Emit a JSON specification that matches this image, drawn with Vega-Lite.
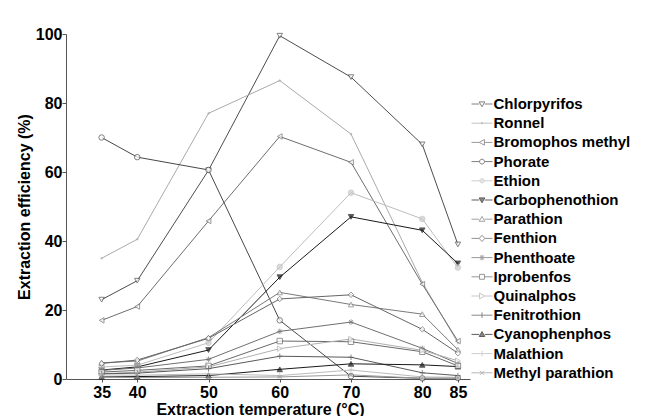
{
  "$schema": "https://vega.github.io/schema/vega-lite/v6.json",
  "width": 404,
  "height": 345,
  "autosize": "none",
  "padding": {"left": 66, "top": 34, "right": 183, "bottom": 37},
  "background": "white",
  "config": {
    "view": {"stroke": null},
    "font": "Liberation Sans",
    "axis": {
      "grid": false,
      "domainColor": "#555555",
      "tickColor": "#555555",
      "labelColor": "#000000",
      "labelFont": "Liberation Sans",
      "labelFontSize": 16,
      "labelFontWeight": "bold",
      "titleFont": "Liberation Sans",
      "titleFontSize": 16,
      "titleFontWeight": "bold",
      "titleColor": "#000000"
    },
    "legend": {
      "orient": "none", "legendX": 408.5, "legendY": 62.5,
      "labelFont": "Liberation Sans", "labelFontSize": 15, "labelFontWeight": "bold", "labelColor": "#000000",
      "labelLimit": 250, "labelOffset": 4, "rowPadding": 3.2, "symbolSize": 196, "symbolStrokeWidth": 1
    }
  },
  "data": {
    "values": [
      {"s": "Chlorpyrifos", "t": 35, "v": 23}, {"s": "Chlorpyrifos", "t": 40, "v": 28.5}, {"s": "Chlorpyrifos", "t": 50, "v": 60.5}, {"s": "Chlorpyrifos", "t": 60, "v": 99.5}, {"s": "Chlorpyrifos", "t": 70, "v": 87.5}, {"s": "Chlorpyrifos", "t": 80, "v": 68}, {"s": "Chlorpyrifos", "t": 85, "v": 39},
      {"s": "Ronnel", "t": 35, "v": 35}, {"s": "Ronnel", "t": 40, "v": 40.5}, {"s": "Ronnel", "t": 50, "v": 77}, {"s": "Ronnel", "t": 60, "v": 86.5}, {"s": "Ronnel", "t": 70, "v": 71}, {"s": "Ronnel", "t": 80, "v": 28}, {"s": "Ronnel", "t": 85, "v": 10.5},
      {"s": "Bromophos methyl", "t": 35, "v": 17}, {"s": "Bromophos methyl", "t": 40, "v": 21}, {"s": "Bromophos methyl", "t": 50, "v": 45.8}, {"s": "Bromophos methyl", "t": 60, "v": 70.3}, {"s": "Bromophos methyl", "t": 70, "v": 62.8}, {"s": "Bromophos methyl", "t": 80, "v": 27.5}, {"s": "Bromophos methyl", "t": 85, "v": 11},
      {"s": "Phorate", "t": 35, "v": 70}, {"s": "Phorate", "t": 40, "v": 64.3}, {"s": "Phorate", "t": 50, "v": 60.6}, {"s": "Phorate", "t": 60, "v": 17}, {"s": "Phorate", "t": 70, "v": 0.8}, {"s": "Phorate", "t": 80, "v": 0.2}, {"s": "Phorate", "t": 85, "v": 0.3},
      {"s": "Ethion", "t": 35, "v": 3.5}, {"s": "Ethion", "t": 40, "v": 4}, {"s": "Ethion", "t": 50, "v": 10.5}, {"s": "Ethion", "t": 60, "v": 32.5}, {"s": "Ethion", "t": 70, "v": 54}, {"s": "Ethion", "t": 80, "v": 46.4}, {"s": "Ethion", "t": 85, "v": 32.3},
      {"s": "Carbophenothion", "t": 35, "v": 2.6}, {"s": "Carbophenothion", "t": 40, "v": 3.5}, {"s": "Carbophenothion", "t": 50, "v": 8.4}, {"s": "Carbophenothion", "t": 60, "v": 29.5}, {"s": "Carbophenothion", "t": 70, "v": 47}, {"s": "Carbophenothion", "t": 80, "v": 43.1}, {"s": "Carbophenothion", "t": 85, "v": 33.5},
      {"s": "Parathion", "t": 35, "v": 4.7}, {"s": "Parathion", "t": 40, "v": 5.2}, {"s": "Parathion", "t": 50, "v": 12}, {"s": "Parathion", "t": 60, "v": 25.1}, {"s": "Parathion", "t": 70, "v": 21.6}, {"s": "Parathion", "t": 80, "v": 18.8}, {"s": "Parathion", "t": 85, "v": 8.5},
      {"s": "Fenthion", "t": 35, "v": 4.5}, {"s": "Fenthion", "t": 40, "v": 5.5}, {"s": "Fenthion", "t": 50, "v": 11.8}, {"s": "Fenthion", "t": 60, "v": 23.2}, {"s": "Fenthion", "t": 70, "v": 24.4}, {"s": "Fenthion", "t": 80, "v": 14.4}, {"s": "Fenthion", "t": 85, "v": 7.5},
      {"s": "Phenthoate", "t": 35, "v": 2.5}, {"s": "Phenthoate", "t": 40, "v": 3.2}, {"s": "Phenthoate", "t": 50, "v": 5.7}, {"s": "Phenthoate", "t": 60, "v": 13.8}, {"s": "Phenthoate", "t": 70, "v": 16.5}, {"s": "Phenthoate", "t": 80, "v": 8.9}, {"s": "Phenthoate", "t": 85, "v": 4.5},
      {"s": "Iprobenfos", "t": 35, "v": 2}, {"s": "Iprobenfos", "t": 40, "v": 2.5}, {"s": "Iprobenfos", "t": 50, "v": 3.8}, {"s": "Iprobenfos", "t": 60, "v": 11}, {"s": "Iprobenfos", "t": 70, "v": 10.8}, {"s": "Iprobenfos", "t": 80, "v": 7.9}, {"s": "Iprobenfos", "t": 85, "v": 3.8},
      {"s": "Quinalphos", "t": 35, "v": 1.5}, {"s": "Quinalphos", "t": 40, "v": 2}, {"s": "Quinalphos", "t": 50, "v": 3.5}, {"s": "Quinalphos", "t": 60, "v": 8.8}, {"s": "Quinalphos", "t": 70, "v": 11.6}, {"s": "Quinalphos", "t": 80, "v": 8.3}, {"s": "Quinalphos", "t": 85, "v": 5.3},
      {"s": "Fenitrothion", "t": 35, "v": 1.5}, {"s": "Fenitrothion", "t": 40, "v": 1.7}, {"s": "Fenitrothion", "t": 50, "v": 3}, {"s": "Fenitrothion", "t": 60, "v": 6.6}, {"s": "Fenitrothion", "t": 70, "v": 6.3}, {"s": "Fenitrothion", "t": 80, "v": 1.8}, {"s": "Fenitrothion", "t": 85, "v": 1},
      {"s": "Cyanophenphos", "t": 35, "v": 0.6}, {"s": "Cyanophenphos", "t": 40, "v": 0.7}, {"s": "Cyanophenphos", "t": 50, "v": 1}, {"s": "Cyanophenphos", "t": 60, "v": 2.8}, {"s": "Cyanophenphos", "t": 70, "v": 4.4}, {"s": "Cyanophenphos", "t": 80, "v": 4.1}, {"s": "Cyanophenphos", "t": 85, "v": 3.6},
      {"s": "Malathion", "t": 35, "v": 1.2}, {"s": "Malathion", "t": 40, "v": 1.1}, {"s": "Malathion", "t": 50, "v": 1.5}, {"s": "Malathion", "t": 60, "v": 1}, {"s": "Malathion", "t": 70, "v": 2.6}, {"s": "Malathion", "t": 80, "v": 0.6}, {"s": "Malathion", "t": 85, "v": 0.5},
      {"s": "Methyl parathion", "t": 35, "v": 0.5}, {"s": "Methyl parathion", "t": 40, "v": 0.4}, {"s": "Methyl parathion", "t": 50, "v": 0.5}, {"s": "Methyl parathion", "t": 60, "v": 0.6}, {"s": "Methyl parathion", "t": 70, "v": 1.2}, {"s": "Methyl parathion", "t": 80, "v": 0.2}, {"s": "Methyl parathion", "t": 85, "v": 0.2}
    ]
  },
  "encoding": {
    "x": {
      "field": "t", "type": "quantitative",
      "scale": {"domain": [30, 86.7], "nice": false, "zero": false},
      "axis": {"values": [35, 40, 50, 60, 70, 80, 85], "tickSize": 3, "labelPadding": 2, "title": "Extraction temperature (°C)", "titleX": 194, "titleY": 35, "titleBaseline": "alphabetic"}
    },
    "y": {
      "field": "v", "type": "quantitative",
      "scale": {"domain": [0, 100], "nice": false},
      "axis": {"values": [0, 20, 40, 60, 80, 100], "tickSize": 4, "labelPadding": 0, "titlePadding": 3, "title": "Extraction efficiency (%)"}
    },
    "color": {
      "field": "s", "type": "nominal",
      "scale": {
        "domain": ["Chlorpyrifos", "Ronnel", "Bromophos methyl", "Phorate", "Ethion", "Carbophenothion", "Parathion", "Fenthion", "Phenthoate", "Iprobenfos", "Quinalphos", "Fenitrothion", "Cyanophenphos", "Malathion", "Methyl parathion"],
        "range": ["#4d4d4d", "#aaaaaa", "#6e6e6e", "#484848", "#bdbdbd", "#1a1a1a", "#7a7a7a", "#666666", "#707070", "#6a6a6a", "#b0b0b0", "#595959", "#1a1a1a", "#bbbbbb", "#999999"]
      },
      "legend": {"title": null}
    }
  },
  "layer": [
    {
      "mark": {"type": "line", "strokeWidth": 1},
      "encoding": {"detail": {"field": "s"}}
    },
    {
      "mark": {"type": "point", "filled": false, "size": 0, "strokeWidth": 1},
      "encoding": {
        "shape": {
          "field": "s", "type": "nominal", "legend": {"title": null},
          "scale": {
            "domain": ["Chlorpyrifos", "Ronnel", "Bromophos methyl", "Phorate", "Ethion", "Carbophenothion", "Parathion", "Fenthion", "Phenthoate", "Iprobenfos", "Quinalphos", "Fenitrothion", "Cyanophenphos", "Malathion", "Methyl parathion"],
            "range": ["M-1.5,0H-0.4M0.4,0H1.5M-0.4,-0.3L0.4,-0.3L0,0.4Z", "M-1.5,0H1.5M-0.12,0A0.12,0.12,0,1,0,0.12,0A0.12,0.12,0,1,0,-0.12,0Z", "M-1.5,0H-0.4M0.35,0H1.5M-0.4,0L0.35,-0.4L0.35,0.4Z", "M-1.5,0H-0.35M0.35,0H1.5M-0.35,0A0.35,0.35,0,1,0,0.35,0A0.35,0.35,0,1,0,-0.35,0Z", "M-1.5,0H-0.3M0.3,0H1.5M-0.3,0A0.3,0.3,0,1,0,0.3,0A0.3,0.3,0,1,0,-0.3,0Z", "M-1.5,0H-0.4M0.4,0H1.5M-0.4,-0.3L0.4,-0.3L0,0.4Z", "M-1.5,0H-0.4M0.4,0H1.5M-0.4,0.3L0.4,0.3L0,-0.4Z", "M-1.5,0H-0.4M0.4,0H1.5M-0.4,0L0,-0.45L0.4,0L0,0.45Z", "M-1.5,0H1.5M0,-0.4V0.4M-0.3,-0.3L0.3,0.3M-0.3,0.3L0.3,-0.3", "M-1.5,0H-0.35M0.35,0H1.5M-0.35,-0.35H0.35V0.35H-0.35Z", "M-1.5,0H-0.35M0.4,0H1.5M0.4,0L-0.35,-0.4L-0.35,0.4Z", "M-1.5,0H1.5M0,-0.4V0.4", "M-1.5,0H-0.4M0.4,0H1.5M-0.4,0.3L0.4,0.3L0,-0.4Z", "M-1.5,0H1.5M0,-0.4V0.4", "M-1.5,0H1.5M-0.3,-0.3L0.3,0.3M-0.3,0.3L0.3,-0.3"]
          }
        },
        "fill": {
          "field": "s", "type": "nominal", "legend": {"title": null},
          "scale": {
            "domain": ["Chlorpyrifos", "Ronnel", "Bromophos methyl", "Phorate", "Ethion", "Carbophenothion", "Parathion", "Fenthion", "Phenthoate", "Iprobenfos", "Quinalphos", "Fenitrothion", "Cyanophenphos", "Malathion", "Methyl parathion"],
            "range": ["white", "#aaaaaa", "white", "white", "#cccccc", "#111111", "white", "white", "white", "white", "white", "white", "#111111", "white", "white"]
          }
        }
      }
    },
    {
      "transform": [{"filter": {"field": "s", "oneOf": ["Chlorpyrifos", "Carbophenothion"]}}],
      "mark": {"type": "point", "shape": "triangle-down", "filled": false, "size": 30, "strokeWidth": 1},
      "encoding": {"fill": {"field": "s", "type": "nominal", "legend": null}}
    },
    {
      "transform": [{"filter": {"field": "s", "oneOf": ["Ronnel"]}}],
      "mark": {"type": "point", "shape": "M-0.3,0A0.3,0.3,0,1,0,0.3,0A0.3,0.3,0,1,0,-0.3,0Z", "filled": false, "size": 30, "strokeWidth": 1},
      "encoding": {"fill": {"field": "s", "type": "nominal", "legend": null}}
    },
    {
      "transform": [{"filter": {"field": "s", "oneOf": ["Bromophos methyl"]}}],
      "mark": {"type": "point", "shape": "triangle-left", "filled": false, "size": 30, "strokeWidth": 1},
      "encoding": {"fill": {"field": "s", "type": "nominal", "legend": null}}
    },
    {
      "transform": [{"filter": {"field": "s", "oneOf": ["Phorate", "Ethion"]}}],
      "mark": {"type": "point", "shape": "circle", "filled": false, "size": 30, "strokeWidth": 1},
      "encoding": {"fill": {"field": "s", "type": "nominal", "legend": null}}
    },
    {
      "transform": [{"filter": {"field": "s", "oneOf": ["Parathion", "Cyanophenphos"]}}],
      "mark": {"type": "point", "shape": "triangle-up", "filled": false, "size": 30, "strokeWidth": 1},
      "encoding": {"fill": {"field": "s", "type": "nominal", "legend": null}}
    },
    {
      "transform": [{"filter": {"field": "s", "oneOf": ["Fenthion"]}}],
      "mark": {"type": "point", "shape": "diamond", "filled": false, "size": 30, "strokeWidth": 1},
      "encoding": {"fill": {"field": "s", "type": "nominal", "legend": null}}
    },
    {
      "transform": [{"filter": {"field": "s", "oneOf": ["Phenthoate"]}}],
      "mark": {"type": "point", "shape": "M-1,0H1M0,-1V1M-0.7,-0.7L0.7,0.7M-0.7,0.7L0.7,-0.7", "filled": false, "size": 30, "strokeWidth": 1},
      "encoding": {"fill": {"field": "s", "type": "nominal", "legend": null}}
    },
    {
      "transform": [{"filter": {"field": "s", "oneOf": ["Iprobenfos"]}}],
      "mark": {"type": "point", "shape": "square", "filled": false, "size": 30, "strokeWidth": 1},
      "encoding": {"fill": {"field": "s", "type": "nominal", "legend": null}}
    },
    {
      "transform": [{"filter": {"field": "s", "oneOf": ["Quinalphos"]}}],
      "mark": {"type": "point", "shape": "triangle-right", "filled": false, "size": 30, "strokeWidth": 1},
      "encoding": {"fill": {"field": "s", "type": "nominal", "legend": null}}
    },
    {
      "transform": [{"filter": {"field": "s", "oneOf": ["Fenitrothion", "Malathion"]}}],
      "mark": {"type": "point", "shape": "M-1,0H1M0,-1V1", "filled": false, "size": 30, "strokeWidth": 1},
      "encoding": {"fill": {"field": "s", "type": "nominal", "legend": null}}
    },
    {
      "transform": [{"filter": {"field": "s", "oneOf": ["Methyl parathion"]}}],
      "mark": {"type": "point", "shape": "M-0.7,-0.7L0.7,0.7M-0.7,0.7L0.7,-0.7M-1,0H1", "filled": false, "size": 30, "strokeWidth": 1},
      "encoding": {"fill": {"field": "s", "type": "nominal", "legend": null}}
    }
  ]
}
